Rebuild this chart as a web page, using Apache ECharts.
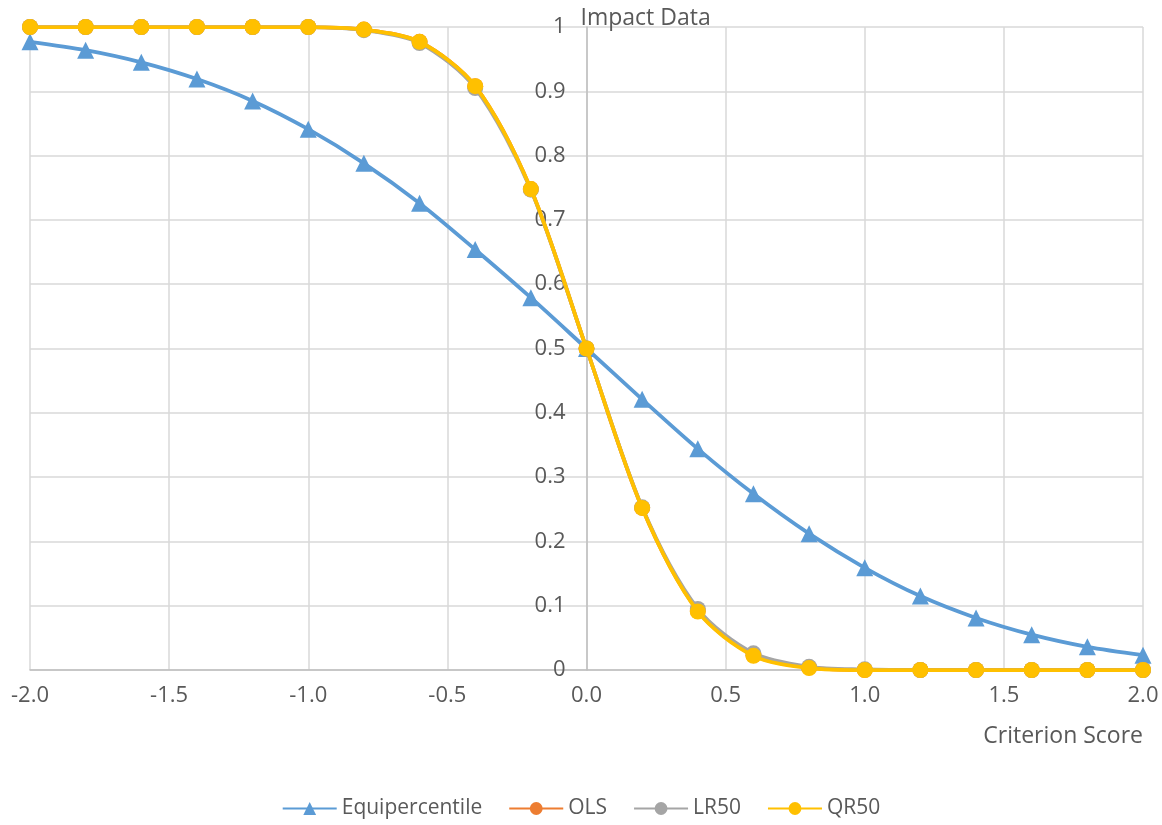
<!DOCTYPE html>
<html><head><meta charset="utf-8">
<script src="https://cdn.jsdelivr.net/npm/echarts@6/dist/echarts.min.js"></script>
<style>html,body{margin:0;padding:0;background:#fff}#c{width:1162px;height:825px}</style>
</head><body><div id="c"></div>
<script>
const xs = [-2.0,-1.8,-1.6,-1.4,-1.2,-1.0,-0.8,-0.6,-0.4,-0.2,0,0.2,0.4,0.6,0.8,1.0,1.2,1.4,1.6,1.8,2.0];
const equipercentile = [0.977,0.964,0.945,0.919,0.885,0.841,0.788,0.726,0.654,0.579,0.5,0.421,0.344,0.274,0.212,0.159,0.115,0.081,0.055,0.036,0.023];
const ols  = [1,1,1,1,1,1,0.996,0.977,0.908,0.748,0.5,0.252,0.092,0.023,0.004,0,0,0,0,0,0];
const lr50 = [1,1,1,1,1,1,0.995,0.975,0.905,0.747,0.5,0.253,0.095,0.026,0.005,0.001,0,0,0,0,0];
const qr50 = [1,1,1,1,1,1,0.996,0.977,0.908,0.748,0.5,0.252,0.091,0.022,0.003,0,0,0,0,0,0];
const seriesNames = ['Equipercentile','OLS','LR50','QR50'];
const colors = ['#5B9BD5','#ED7D31','#A5A5A5','#FFC000'];
const symbols = ['triangle','circle','circle','circle'];
const values = [equipercentile, ols, lr50, qr50];

const font = '"Open Sans", "Liberation Sans", sans-serif';
const txt = '#595959';
const W = 1162, gl = 30, gr = 19;
const chart = echarts.init(document.getElementById('c'));
chart.setOption({
  animation:false,
  textStyle:{fontFamily:font},
  grid:{left:gl,right:gr,top:27,bottom:155,containLabel:false,outerBoundsMode:'none'},
  legend:{
    bottom:1, left:'center', itemWidth:54, itemHeight:16, itemGap:26,
    textStyle:{fontSize:21,color:txt,fontFamily:font},
    data:seriesNames
  },
  xAxis:{
    type:'value', min:-2, max:2, interval:0.5,
    name:'Criterion Score', nameLocation:'end', nameGap:0,
    nameTextStyle:{fontSize:23,color:txt,align:'right',verticalAlign:'top',padding:[55,0,0,0]},
    axisLine:{show:true,onZero:false,lineStyle:{color:'#bfbfbf',width:1.5}},
    axisTick:{show:false},
    axisLabel:{fontSize:22,color:txt,margin:15,formatter:v=>v.toFixed(1)},
    splitLine:{show:true,lineStyle:{color:'#d9d9d9',width:1.5}}
  },
  yAxis:{
    type:'value', min:0, max:1, interval:0.1, position:'left',
    offset: -(W-gl-gr)/2,
    name:'Impact Data', nameLocation:'end', nameGap:-3,
    nameTextStyle:{fontSize:23,color:txt,align:'left',verticalAlign:'bottom',padding:[0,0,0,-6]},
    axisLine:{show:true,onZero:false,lineStyle:{color:'#bfbfbf',width:1.5}},
    axisTick:{show:false},
    axisLabel:{fontSize:22,color:txt,margin:21},
    splitLine:{show:true,lineStyle:{color:'#d9d9d9',width:1.5}}
  },
  series: seriesNames.map((n,i)=>({
    name:n, type:'line', smooth:0.3,
    data: xs.map((x,j)=>[x, values[i][j]]),
    symbol:symbols[i], symbolSize: i===0?17:16,
    showAllSymbol:true,
    lineStyle:{color:colors[i],width:3.75},
    itemStyle:{color:colors[i]},
    emphasis:{disabled:true},
    z: 2+i
  }))
});
</script></body></html>
